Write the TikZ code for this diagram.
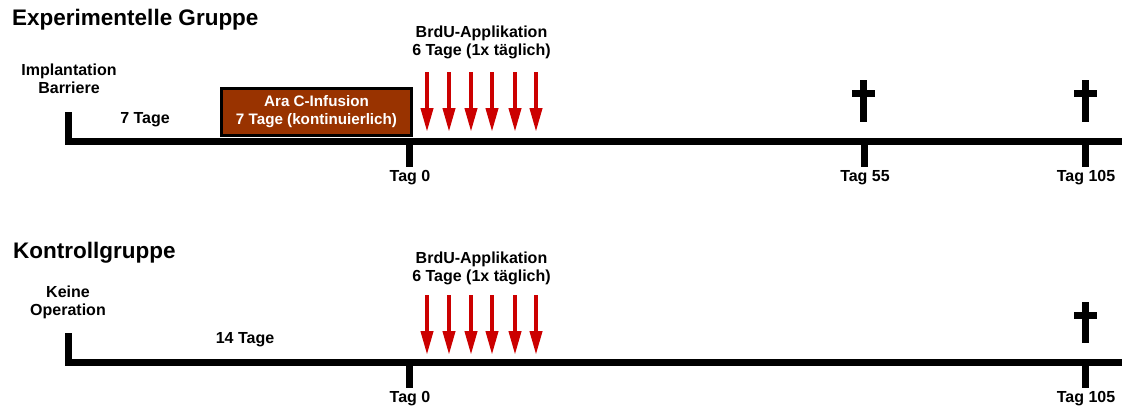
\documentclass[tikz,border=0pt]{standalone}
\usepackage{fontspec}
\setmainfont{Liberation Sans}
\usetikzlibrary{arrows.meta}
\definecolor{arabrown}{RGB}{153,51,0}
\definecolor{brdured}{RGB}{204,0,0}
\begin{document}
\begin{tikzpicture}[x=1pt,y=-1pt,
  lbl/.style={font=\bfseries\fontsize{16}{18}\selectfont, align=center, inner sep=0pt},
  ttl/.style={font=\bfseries\fontsize{22.5}{26}\selectfont, anchor=west, inner sep=0pt},
  axis/.style={line width=7pt, line join=miter},
  brdu/.style={brdured, line width=4pt, -{Triangle[width=12pt,length=24pt]}},
  crossbar/.style={line width=7pt},
  infbox/.style={draw=black, fill=arabrown, line width=3pt, minimum width=190pt, minimum height=47pt, inner sep=0pt, text=white, align=center, font=\bfseries\fontsize{15.2}{18}\selectfont}]
\useasboundingbox (0,0) rectangle (1122,410);
% ---------- Experimentelle Gruppe ----------
\node[ttl] (t1) at (12,20) {Experimentelle Gruppe};
\coordinate (s1top) at (68.5,112);
\coordinate (s1) at (68.5,141);
\coordinate (e1) at (1122,141);
\draw[axis] (s1top) -- (s1) -- (e1);
\coordinate (d0a) at (409.5,141); \coordinate (d0b) at (409.5,167);
\coordinate (d55a) at (864,141); \coordinate (d55b) at (864,167);
\coordinate (d105a) at (1085.5,141); \coordinate (d105b) at (1085.5,167);
\draw[axis] (d0a) -- (d0b);
\draw[axis] (d55a) -- (d55b);
\draw[axis] (d105a) -- (d105b);
\node[lbl] (impl) at (69,79) {Implantation\\Barriere};
\node[lbl] (sieben) at (145,120) {7 Tage};
\node[infbox] (arac) at (316.5,112) {Ara C-Infusion\\7 Tage (kontinuierlich)};
\node[lbl] (tag0a) at (410,178) {Tag 0};
\node[lbl] (tag55) at (865,178) {Tag 55};
\node[lbl] (tag105a) at (1086,178) {Tag 105};
\node[lbl] (brdua) at (481.5,42) {BrdU-Applikation\\6 Tage (1x täglich)};
\foreach \i/\x in {1/427,2/449,3/471,4/492,5/515,6/536}{
  \coordinate (a\i s) at (\x,72);
  \coordinate (a\i e) at (\x,132);
  \draw[brdu] (a\i s) -- (a\i e);
}
\foreach \n/\x in {c55/863.5,c105a/1085.5}{
  \coordinate (\n t) at (\x,80); \coordinate (\n b) at (\x,122);
  \coordinate (\n l) at (\x-11.5,93.5); \coordinate (\n r) at (\x+11.5,93.5);
  \draw[crossbar] (\n t) -- (\n b);
  \draw[crossbar] (\n l) -- (\n r);
}
% ---------- Kontrollgruppe ----------
\node[ttl] (t2) at (13,253) {Kontrollgruppe};
\coordinate (s2top) at (68.5,333);
\coordinate (s2) at (68.5,362);
\coordinate (e2) at (1122,362);
\draw[axis] (s2top) -- (s2) -- (e2);
\coordinate (k0a) at (409.5,362); \coordinate (k0b) at (409.5,388);
\coordinate (k105a) at (1085.5,362); \coordinate (k105b) at (1085.5,388);
\draw[axis] (k0a) -- (k0b);
\draw[axis] (k105a) -- (k105b);
\node[lbl] (keine) at (68,302) {Keine\\Operation};
\node[lbl] (vierzehn) at (245,340) {14 Tage};
\node[lbl] (tag0b) at (410,399) {Tag 0};
\node[lbl] (tag105b) at (1086,399) {Tag 105};
\node[lbl] (brdub) at (481.5,268) {BrdU-Applikation\\6 Tage (1x täglich)};
\foreach \i/\x in {1/427,2/449,3/471,4/492,5/515,6/536}{
  \coordinate (b\i s) at (\x,295);
  \coordinate (b\i e) at (\x,355);
  \draw[brdu] (b\i s) -- (b\i e);
}
\foreach \n/\x in {c105b/1085.5}{
  \coordinate (\n t) at (\x,302); \coordinate (\n b) at (\x,343);
  \coordinate (\n l) at (\x-11.5,315); \coordinate (\n r) at (\x+11.5,315);
  \draw[crossbar] (\n t) -- (\n b);
  \draw[crossbar] (\n l) -- (\n r);
}
\end{tikzpicture}
\end{document}
